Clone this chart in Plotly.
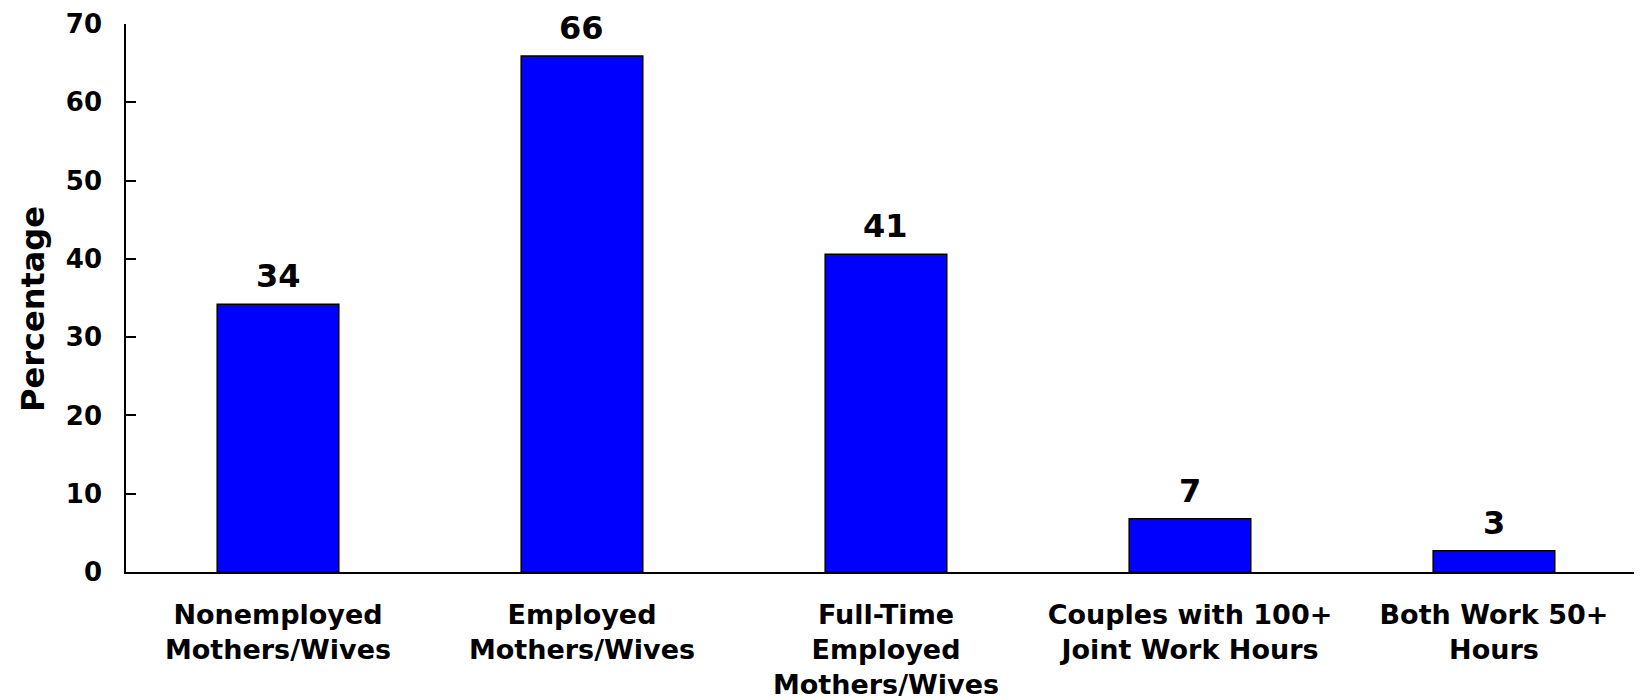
import plotly.graph_objects as go

categories = [
    "Nonemployed<br>Mothers/Wives",
    "Employed<br>Mothers/Wives",
    "Full-Time<br>Employed<br>Mothers/Wives",
    "Couples with 100+<br>Joint Work Hours",
    "Both Work 50+<br>Hours",
]
values = [34.2, 65.9, 40.6, 6.8, 2.7]
value_labels = ["34", "66", "41", "7", "3"]
y_ticks = [0, 10, 20, 30, 40, 50, 60, 70]

FONT = "DejaVu Sans"

fig = go.Figure()
fig.add_trace(go.Bar(
    x=list(range(len(categories))),
    y=values,
    width=0.4,
    marker=dict(color="#0000FF", line=dict(color="black", width=1.5)),
    hoverinfo="skip",
))

for i, (v, t) in enumerate(zip(values, value_labels)):
    fig.add_annotation(
        x=i, y=v, xref="x", yref="y",
        text="<b>%s</b>" % t, showarrow=False,
        yanchor="bottom", yshift=8, borderpad=0,
        font=dict(family=FONT, size=32, color="black"),
    )

fig.add_annotation(
    x=-93 / 1516, y=0.48, xref="paper", yref="paper",
    text="<b>Percentage</b>", textangle=-90, showarrow=False,
    xanchor="center", yanchor="middle",
    font=dict(family=FONT, size=32, color="black"),
)

fig.update_layout(
    width=1634, height=692,
    margin=dict(l=118, r=0, t=16, b=128, autoexpand=False),
    plot_bgcolor="white", paper_bgcolor="white",
    showlegend=False,
    font=dict(family=FONT, color="black"),
    xaxis=dict(
        range=[-0.5, 4.487],
        tickmode="array",
        tickvals=list(range(len(categories))),
        ticktext=["<b>%s</b>" % c for c in categories],
        tickfont=dict(family=FONT, size=27, color="black"),
        showline=True, linecolor="black", linewidth=1.5,
        ticks="", showgrid=False, zeroline=False,
        ticklabelstandoff=18,
        automargin=False,
        fixedrange=True,
    ),
    yaxis=dict(
        range=[0, 70],
        tickmode="array",
        tickvals=y_ticks,
        ticktext=["<b>%d</b>" % t for t in y_ticks],
        tickfont=dict(family=FONT, size=26, color="black"),
        showline=True, linecolor="black", linewidth=1.5,
        ticks="inside", ticklen=10, tickwidth=1.5, tickcolor="black",
        showgrid=False, zeroline=False,
        ticklabelstandoff=17,
        automargin=False,
        fixedrange=True,
    ),
)

fig.write_html("out.html")
